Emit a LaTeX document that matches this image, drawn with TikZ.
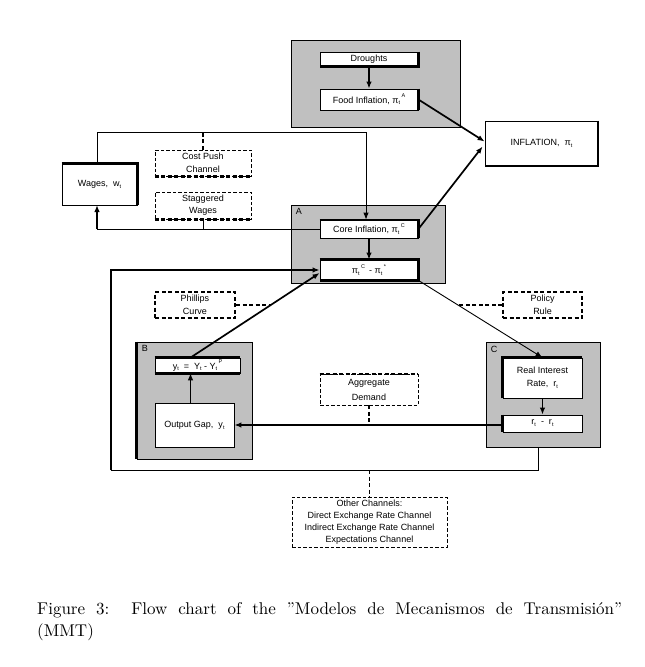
\documentclass[tikz,border=0pt]{standalone}
\usepackage{fontspec}
\newfontfamily\arial{Liberation Sans}
\newfontfamily\capfont{lmroman10-regular.otf}
\usetikzlibrary{arrows.meta,calc}
\definecolor{regiongray}{HTML}{C0C0C0}
\newcommand\sbt[1]{\raisebox{-0.4ex}{\fontsize{5.5}{6}\selectfont #1}}
\newcommand\sbsp[2]{\makebox[0pt][l]{\raisebox{-0.4ex}{\fontsize{5.5}{6}\selectfont #1}}\hspace{3pt}\raisebox{1.1ex}{\fontsize{5.5}{6}\selectfont #2}}
\begin{document}
\begin{tikzpicture}[x=1pt,y=-1pt,
  every node/.style={font=\arial\fontsize{9}{13}\selectfont},
  box/.style={draw, fill=white, line width=0.8pt, inner sep=0pt, align=center},
  dbox/.style={draw, fill=white, line width=0.8pt, inner sep=0pt, align=center, dash pattern=on 3.5pt off 2pt},
  dboxthick/.style={dbox, line width=2pt, dash pattern=on 4pt off 2.5pt},
  grayreg/.style={draw, fill=regiongray, line width=0.8pt, inner sep=0pt},
  thk/.style={line width=3pt},
  thkdash/.style={line width=2.2pt, dash pattern=on 4pt off 2.5pt},
  conn/.style={line width=0.9pt},
  tconn/.style={line width=1.7pt},
  arr/.style={-{Latex[length=7pt,width=5.5pt]}},
  dconn/.style={line width=1.7pt, dash pattern=on 4pt off 2.5pt},
  reglabel/.style={anchor=north west, inner sep=0pt},
]
\useasboundingbox (0,0) rectangle (645,667);
\fill[white] (0,0) rectangle (645,667);

% gray regions
\node[grayreg, minimum width=169pt, minimum height=87pt] (g1) at (375.5,83.5) {};
\node[grayreg, minimum width=154pt, minimum height=78pt] (gA) at (368,244) {};
\node[grayreg, minimum width=115pt, minimum height=117pt] (gB) at (194.5,400.5) {};
\node[grayreg, minimum width=114pt, minimum height=105pt] (gC) at (543,394.5) {};
\node[reglabel] at ($(gA.north west)+(5,4)$) {A};
\node[reglabel] at ($(gB.north west)+(5,4)$) {B};
\node[reglabel] at ($(gC.north west)+(5,4)$) {C};
\draw[thk] (gB.north west) -- (gB.south west);

% solid boxes
\node[box, minimum width=98pt, minimum height=14pt] (dr) at (369,59) {\raisebox{-2pt}{Droughts}};
\node[box, minimum width=98pt, minimum height=21pt] (fi) at (369,99.5) {Food Inflation, π\sbsp{t}{A}};
\node[box, minimum width=113pt, minimum height=45pt] (inf) at (541.5,143.5) {\raisebox{2pt}{INFLATION,\ \ π\sbt{t}}};
\node[box, minimum width=75pt, minimum height=41pt] (wg) at (99.5,184.5) {Wages,\ \ w\sbt{t}};
\node[box, minimum width=98pt, minimum height=18pt] (ci) at (369,229) {Core Inflation, π\sbsp{t}{C}};
\node[box, minimum width=98pt, minimum height=20pt] (pg) at (369,270) {π\sbsp{t}{C}\ \,-\ π\sbsp{t}{*}};
\node[box, minimum width=85pt, minimum height=15pt] (yb) at (197.5,365.5) {y\sbt{t}\ \ =\ \ Y\sbt{t}\ -\ Y\sbsp{t}{P}};
\node[box, minimum width=79pt, minimum height=44pt] (og) at (194.5,425) {Output Gap,\ \ y\sbt{t}};
\node[box, minimum width=79pt, minimum height=40pt] (ri) at (542.5,378) {Real Interest\\Rate,\ \ r\sbt{t}};
\node[box, minimum width=79pt, minimum height=17pt] (rr) at (542.5,423.5) {r\sbt{t}\ \ -\ \ r\sbt{t}};

% thick sides
\draw[thk] (dr.north east) -- (dr.south east) -- (dr.south west);
\draw[thk] (fi.north east) -- (fi.south east);
\draw[line width=2pt] (inf.north east) -- (inf.south east) -- (inf.south west);
\draw[thk] (wg.north west) -- (wg.north east) -- (wg.south east);
\draw[line width=2.2pt] (ci.north west) -- (ci.north east) -- (ci.south east);
\draw[thk] (pg.north west) -- (pg.north east) -- (pg.south east) -- (pg.south west);
\draw[thk] (yb.north west) -- (yb.north east);
\draw[thk] (yb.south west) -- (yb.south east);
\draw[thk] (ri.south west) -- (ri.north west) -- (ri.north east);
\draw[thk] (rr.north west) -- (rr.south west);

% dashed boxes
\node[dbox, minimum width=96pt, minimum height=26pt] (cp) at (203,163) {Cost Push\\Channel};
\node[dbox, minimum width=96pt, minimum height=27pt] (sw) at (203,205.5) {\raisebox{-1pt}{\shortstack{Staggered\\[1pt]Wages}}};
\node[dboxthick, minimum width=80pt, minimum height=26pt] (ph) at (195,305) {Phillips\\Curve};
\node[dboxthick, minimum width=79pt, minimum height=26pt] (pr) at (542.5,305) {Policy\\Rule};
\node[dbox, minimum width=98pt, minimum height=31pt] (ad) at (369,389.5) {Aggregate\\[2pt]Demand};
\node[dbox, minimum width=155pt, minimum height=50pt, font=\arial\fontsize{9}{12}\selectfont] (oc) at (369.5,522) {Other Channels:\\Direct Exchange Rate Channel\\Indirect Exchange Rate Channel\\Expectations Channel};
\draw[thkdash] (cp.south west) -- (cp.south east);
\draw[thkdash] (sw.south west) -- (sw.south east);
\draw[thkdash] (ad.north west) -- (ad.north east);

% loop coordinates
\coordinate (tl) at (97,132);
\coordinate (tr) at (366,132);
\coordinate (lb) at (111,470);
\coordinate (rb) at (538,470);
\coordinate (wgb) at (97,205);

% connectors
\draw[tconn,arr] (dr) -- (fi);
\draw[tconn,arr] (fi.east) -- ($(inf.west)+(0,-2)$);
\draw[tconn,arr] (ci.east) -- ($(inf.west)+(-2,3)$);
\draw[conn,arr] (tl |- wg.north) -- (tl) -- (tr) -- (tr |- ci.north);
\draw[dconn] (cp.north) -- (cp.north |- tl);
\draw[conn] (ci.west) -- (ci.west -| wgb);
\draw[tconn,arr] (ci.west -| wgb) -- (wgb);
\draw[conn] (sw.south) -- (sw.south |- ci.west);
\draw[tconn,arr] (ci) -- (pg);

\draw[conn] (rb |- gC.south) -- (rb) -- (lb);
\draw[tconn,arr] (lb) -- (lb |- pg.west) -- (pg.west);

\coordinate (ya) at ($(yb.north)+(-7,0)$);
\coordinate (yp) at ($(pg.west)+(0,3)$);
\draw[tconn,arr] (ya) -- (yp);
\coordinate (phx) at ($(ya)!0.62!(yp)$);
\draw[dconn] (ph.east) -- (ph.east -| phx);

\draw[conn,arr] (pg.south east) -- (ri.north);
\coordinate (prx) at ($(pg.south east)!0.32!(ri.north)$);
\draw[dconn] (pr.west) -- (pr.west -| prx);

\draw[tconn,arr] (ri) -- (rr);
\draw[conn,arr] ($(og.north)+(-4,0)$) -- ($(yb.south)+(-7,0)$);
\draw[tconn,arr] (rr.west |- og.east) -- (og.east);
\draw[dconn] (ad.south) -- (ad.south |- og.east);
\draw[dconn] (oc.north |- lb) -- (oc.north);

% caption
\node[anchor=north west, text width=585pt, align=justify, inner sep=0pt,
      font=\capfont\fontsize{17}{22}\selectfont] (cap) at (37,602)
  {Figure 3:\ \ Flow chart of the ”Modelos de Mecanismos de Transmisión”\linebreak (MMT)};
\end{tikzpicture}
\end{document}
